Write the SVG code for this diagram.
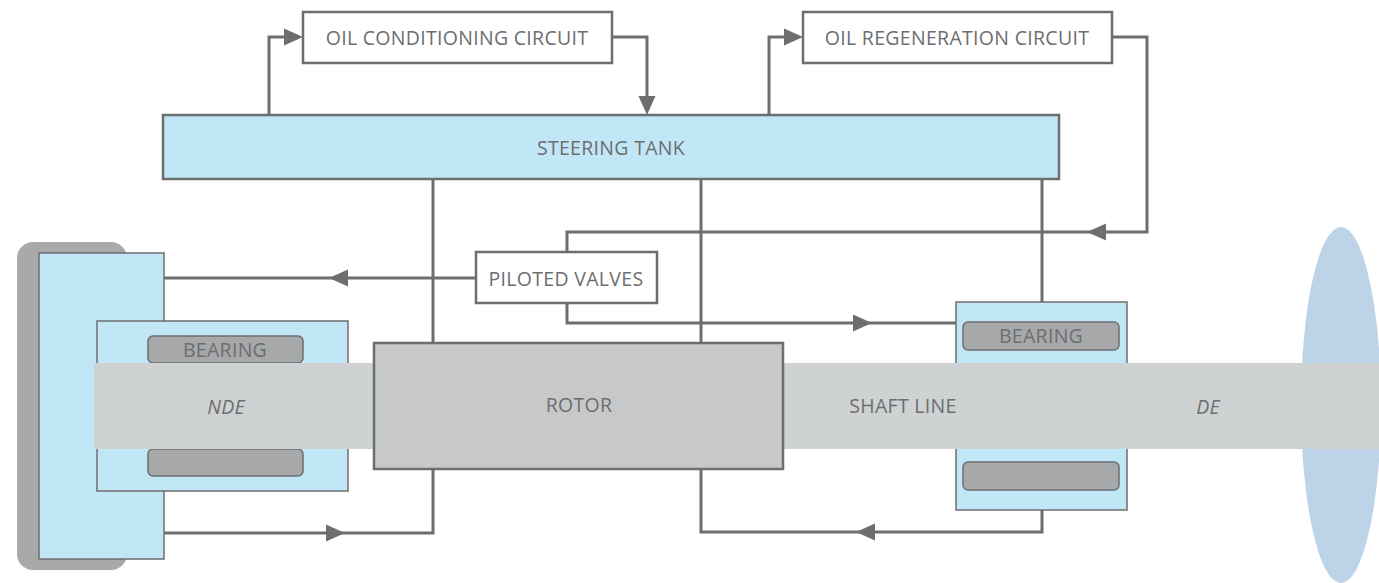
<svg xmlns="http://www.w3.org/2000/svg" xmlns:xlink="http://www.w3.org/1999/xlink" width="1379" height="583" viewBox="0 0 1379 583">
  <style>
    .lbl { font-family: "Open Sans", "Liberation Sans", sans-serif; font-size: 19.5px; letter-spacing: 0.3px; fill: #6d6e70; text-anchor: middle; dominant-baseline: central; }
    .it { font-style: italic; }
    .box { fill: #ffffff; stroke: #6d6e70; stroke-width: 2.5; }
    .tank { fill: #c1e6f6; stroke: #6d6e70; stroke-width: 2.5; }
    .housing { fill: #c1e6f6; stroke: #6d6e70; stroke-width: 1.5; }
    .pad { fill: #a6a8aa; stroke: #6d6e70; stroke-width: 1.5; }
    .wire { fill: none; stroke: #6d6e70; stroke-width: 3; stroke-linejoin: miter; }
    .head { fill: #6d6e70; }
  </style>
  <defs>
    <path id="ah" d="M0,0 L-19,-8.5 L-19,8.5 Z"/>
  </defs>

  <rect width="1379" height="583" fill="#ffffff"/>

  <!-- propeller disc at the drive end -->
  <g id="propeller">
    <ellipse cx="1341" cy="405" rx="40" ry="178" fill="#bdd3e8"/>
  </g>

  <!-- non drive end housing -->
  <g id="nde-housing">
    <rect x="17" y="242" width="110" height="328" rx="16" fill="#a7a9ab"/>
    <rect x="39" y="253" width="125" height="306" class="housing"/>
  </g>

  <g id="nde-bearing">
    <rect x="97" y="321" width="251" height="170" class="housing"/>
    <rect x="148" y="336" width="155" height="27" rx="5" class="pad"/>
    <rect x="148" y="449" width="155" height="27" rx="5" class="pad"/>
    <text x="225" y="349" class="lbl">BEARING</text>
  </g>

  <g id="de-bearing">
    <rect x="956" y="302" width="171" height="208" class="housing"/>
    <rect x="963" y="322" width="156" height="28" rx="5" class="pad"/>
    <rect x="963" y="462" width="156" height="28" rx="5" class="pad"/>
    <text x="1041" y="335" class="lbl">BEARING</text>
  </g>

  <!-- shaft line -->
  <g id="shaft">
    <rect x="94" y="363" width="1285" height="86" fill="#ced2d3"/>
    <text x="226" y="406" class="lbl it">NDE</text>
    <text x="903" y="405" class="lbl">SHAFT LINE</text>
    <text x="1208" y="406" class="lbl it">DE</text>
  </g>

  <g id="rotor">
    <rect x="374" y="343" width="409" height="126" fill="#c7c8ca" stroke="#6d6e70" stroke-width="2.5"/>
    <text x="579" y="404" class="lbl">ROTOR</text>
  </g>

  <g id="steering-tank">
    <rect x="163" y="115" width="896" height="64" class="tank"/>
    <text x="611" y="147" class="lbl">STEERING TANK</text>
  </g>

  <g id="oil-conditioning">
    <rect x="303" y="12" width="309" height="51" class="box"/>
    <text x="457" y="37" class="lbl">OIL CONDITIONING CIRCUIT</text>
  </g>

  <g id="oil-regeneration">
    <rect x="803" y="12" width="309" height="51" class="box"/>
    <text x="957" y="37" class="lbl">OIL REGENERATION CIRCUIT</text>
  </g>

  <g id="piloted-valves">
    <rect x="476" y="252" width="181" height="51" class="box"/>
    <text x="566" y="278" class="lbl">PILOTED VALVES</text>
  </g>

  <!-- oil flow lines -->
  <g id="connectors">
    <path class="wire" d="M269,115 V37 H290"/>
    <path class="wire" d="M612,37 H647 V100"/>
    <path class="wire" d="M769,115 V37 H790"/>
    <path class="wire" d="M1112,37 H1147 V232 H567 V252"/>
    <path class="wire" d="M433,179 V343"/>
    <path class="wire" d="M701,179 V343"/>
    <path class="wire" d="M1042,179 V302"/>
    <path class="wire" d="M476,278 H164"/>
    <path class="wire" d="M567,303 V323 H956"/>
    <path class="wire" d="M164,533 H433 V469"/>
    <path class="wire" d="M1042,510 V532 H701 V469"/>

    <use xlink:href="#ah" class="head" transform="translate(303,37)"/>
    <use xlink:href="#ah" class="head" transform="translate(647,115) rotate(90)"/>
    <use xlink:href="#ah" class="head" transform="translate(803,37)"/>
    <use xlink:href="#ah" class="head" transform="translate(1087,232) rotate(180)"/>
    <use xlink:href="#ah" class="head" transform="translate(329,278) rotate(180)"/>
    <use xlink:href="#ah" class="head" transform="translate(872,323)"/>
    <use xlink:href="#ah" class="head" transform="translate(345,533)"/>
    <use xlink:href="#ah" class="head" transform="translate(856,532) rotate(180)"/>
  </g>
</svg>
